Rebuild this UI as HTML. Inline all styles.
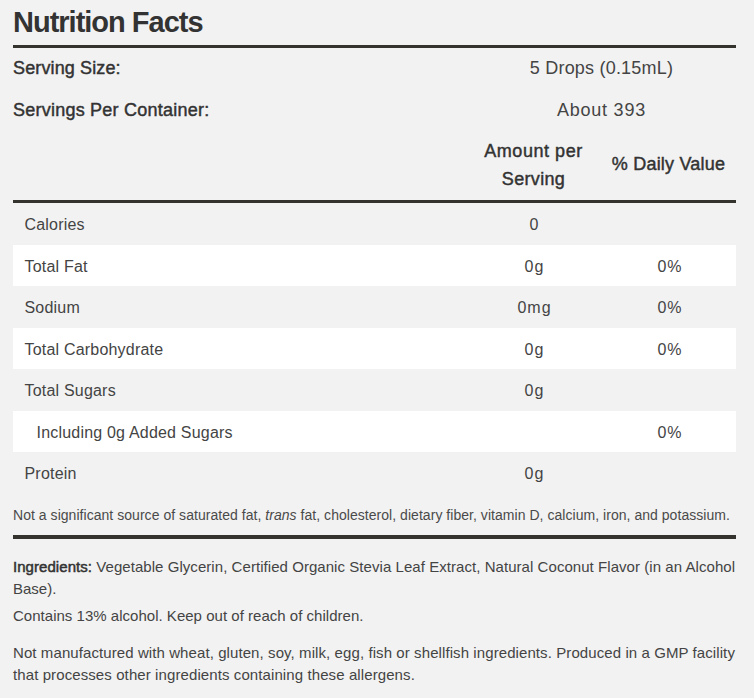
<!DOCTYPE html>
<html>
<head>
<meta charset="utf-8">
<style>
html,body{margin:0;padding:0;}
body{width:754px;height:698px;overflow:hidden;background:#f2f2f2;position:relative;font-family:"Liberation Sans",sans-serif;color:#333;}
.a{position:absolute;white-space:nowrap;}
.rule{position:absolute;left:13px;width:723px;background:#35332d;}
.title{left:13px;top:8px;font-size:29px;line-height:29px;font-weight:700;letter-spacing:-1px;color:#333;}
.lbl{left:13px;font-size:18px;line-height:18px;-webkit-text-stroke:0.45px #333;color:#333;}
.sb{-webkit-text-stroke:0.5px #333;color:#333;font-weight:400;}
.val{left:465px;width:271px;text-align:center;font-size:18px;line-height:18px;color:#444;}
.hd{font-size:18px;text-align:center;color:#333;-webkit-text-stroke:0.45px #333;}
.row{position:absolute;left:13px;width:723px;height:41.5px;}
.row.w{background:#fff;}
.row span{position:absolute;top:0;line-height:41.5px;font-size:16px;color:#444;white-space:nowrap;padding-top:1px;}
.row .n{left:11.5px;letter-spacing:0.2px;}
.row .n.ind{left:23.5px;}
.row .v{left:454px;width:135px;text-align:center;letter-spacing:1px;}
.row .d{left:589.5px;width:135px;text-align:center;letter-spacing:1px;}
.foot{left:13px;top:508px;font-size:14px;line-height:14px;color:#4a4a4a;}
.p{left:13px;font-size:15px;line-height:22px;color:#444;}
</style>
</head>
<body>
<div class="a title">Nutrition Facts</div>
<div class="rule" style="top:45px;height:3px"></div>

<div class="a lbl" style="top:59px;letter-spacing:0.13px">Serving Size:</div>
<div class="a val" style="top:59px;letter-spacing:0.2px;left:466px">5 Drops (0.15mL)</div>
<div class="a lbl" style="top:101px;letter-spacing:0.23px">Servings Per Container:</div>
<div class="a val" style="top:101px;letter-spacing:0.75px;left:466px">About 393</div>

<div class="a hd" style="left:466px;width:135px;top:137px;line-height:28px;letter-spacing:0.55px">Amount per<br><span style="letter-spacing:0.33px">Serving</span></div>
<div class="a hd" style="left:601px;width:135px;top:155px;line-height:18px;letter-spacing:0.2px">% Daily Value</div>

<div class="rule" style="top:200px;height:3px"></div>

<div class="row" style="top:203px"><span class="n">Calories</span><span class="v">0</span></div>
<div class="row w" style="top:244.5px"><span class="n">Total Fat</span><span class="v">0g</span><span class="d">0%</span></div>
<div class="row" style="top:286px"><span class="n">Sodium</span><span class="v">0mg</span><span class="d">0%</span></div>
<div class="row w" style="top:327.5px"><span class="n">Total Carbohydrate</span><span class="v">0g</span><span class="d">0%</span></div>
<div class="row" style="top:369px"><span class="n">Total Sugars</span><span class="v">0g</span></div>
<div class="row w" style="top:410.5px"><span class="n ind">Including 0g Added Sugars</span><span class="d">0%</span></div>
<div class="row" style="top:452px"><span class="n">Protein</span><span class="v">0g</span></div>

<div class="a foot" style="letter-spacing:0.04px">Not a significant source of saturated fat, <i>trans</i> fat, cholesterol, dietary fiber, vitamin D, calcium, iron, and potassium.</div>

<div class="rule" style="top:535px;height:4px"></div>

<div class="a p" style="top:556px"><span style="letter-spacing:0.054px"><span class="sb">Ingredients:</span> Vegetable Glycerin, Certified Organic Stevia Leaf Extract, Natural Coconut Flavor (in an Alcohol</span><br>Base).</div>
<div class="a p" style="top:605px;letter-spacing:0.02px">Contains 13% alcohol. Keep out of reach of children.</div>
<div class="a p" style="top:642px"><span style="letter-spacing:0.088px">Not manufactured with wheat, gluten, soy, milk, egg, fish or shellfish ingredients. Produced in a GMP facility</span><br><span style="letter-spacing:0.097px">that processes other ingredients containing these allergens.</span></div>
</body>
</html>
